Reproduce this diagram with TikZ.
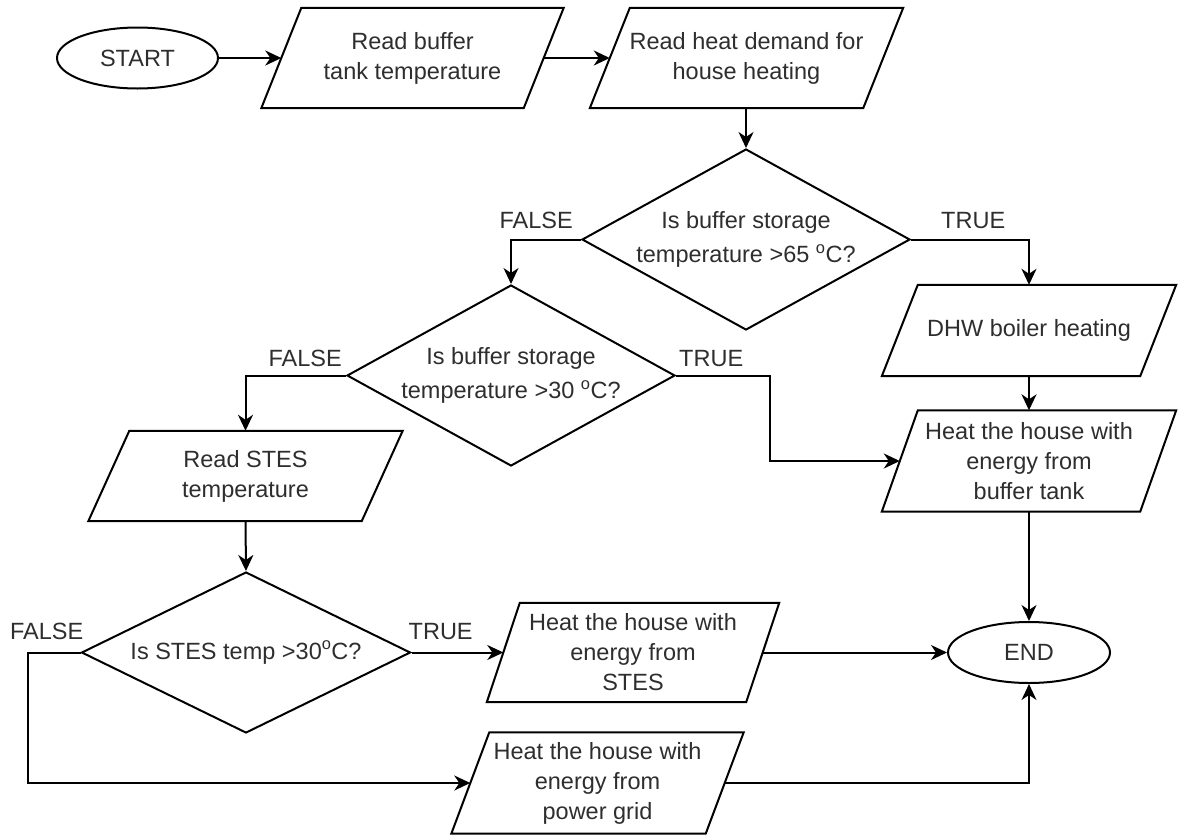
\documentclass[tikz,border=0pt]{standalone}
\usepackage{fontspec}
\setmainfont{Liberation Sans}
\usetikzlibrary{shapes.geometric,arrows.meta}
\newcommand\iobox[2]{\draw[shapeline] ([xshift=#2pt]#1.north west) -- ([xshift=#2pt]#1.north east) -- ([xshift=-#2pt]#1.south east) -- ([xshift=-#2pt]#1.south west) -- cycle;}
\begin{document}
\begin{tikzpicture}[x=1pt,y=-1pt,
  font=\fontsize{23.5}{30}\selectfont, text=black!82,
  shapeline/.style={draw=black, line width=2pt, line join=miter},
  term/.style={shape=ellipse, shapeline, inner sep=0pt, minimum height=61pt},
  dec/.style={shape=diamond, shapeline, inner sep=-20pt, aspect=1.8, align=center,
    font=\fontsize{23.5}{34.5}\selectfont, minimum width=328pt, minimum height=181pt},
  io/.style={shape=rectangle, inner sep=0pt, align=center, minimum height=100pt},
  conn/.style={draw=black, line width=2pt, -{Stealth[length=16pt,width=15pt,inset=5pt]}},
  lbl/.style={inner sep=0pt}]
\useasboundingbox[fill=white] (0,0) rectangle (1178,836);

\node[term, minimum width=161pt] (start) at (137.5,58) {START};
\node[io, minimum width=262pt] (rb) at (412.5,58) {Read buffer\\tank temperature};
\iobox{rb}{20}
\node[io, minimum width=273pt] (hd) at (746.5,58) {Read heat demand for\\house heating};
\iobox{hd}{20}
\node[dec] (d1) at (746,239.5) {Is buffer storage\\temperature >65 \textsuperscript{o}C?};
\node[dec] (d2) at (511,375.5) {Is buffer storage\\temperature >30 \textsuperscript{o}C?};
\node[io, minimum width=258pt, minimum height=91pt] (dhw) at (1029,330.5) {DHW boiler heating};
\iobox{dhw}{18}
\node[io, minimum width=258pt, minimum height=101pt] (hb) at (1029,461) {Heat the house with\\energy from\\buffer tank};
\iobox{hb}{18}
\node[io, minimum width=273pt, minimum height=90pt] (rs) at (245.5,476) {Read STES\\temperature};
\iobox{rs}{20.5}
\node[dec, minimum width=329pt, minimum height=161pt, aspect=2] (d3) at (246,652.5) {Is STES temp >30\textsuperscript{o}C?};
\node[io, minimum width=259pt, minimum height=99pt] (sb) at (633,652.5) {Heat the house with\\energy from\\STES};
\iobox{sb}{16.5}
\node[io, minimum width=254pt, minimum height=101pt] (pg) at (597.5,783) {Heat the house with\\energy from\\power grid};
\iobox{pg}{19}
\node[term, minimum width=162pt] (end) at (1029,652.5) {END};

\node[lbl, anchor=east] (f1) at ([shift={(-8,-19)}]d1.west) {FALSE};
\node[lbl, anchor=west] (t1) at ([shift={(30,-19)}]d1.east) {TRUE};
\node[lbl, anchor=east] (f2) at ([shift={(-4,-17)}]d2.west) {FALSE};
\node[lbl, anchor=west] (t2) at ([shift={(3,-17)}]d2.east) {TRUE};
\node[lbl, anchor=east] (f3) at ([shift={(3,-21)}]d3.west) {FALSE};
\node[lbl, anchor=west] (t3) at ([shift={(-3,-21)}]d3.east) {TRUE};

\draw[conn] (start.east) -- (rb.west);
\draw[conn] (rb.east) -- (hd.west);
\draw[conn] (hd.south -| d1.north) -- (d1.north);
\draw[conn] (d1.west) -| (d2.north);
\draw[conn] (d1.east) -| (dhw.north);
\draw[conn] (d2.west) -| (rs.north);
\draw[conn] (d2.east) -- ++(93.5,0) |- (hb.west);
\draw[conn] (dhw.south) -- (hb.north);
\draw[conn] (hb.south) -- (end.north);
\draw[conn] (rs.south) -- (d3.north);
\draw[conn] (d3.east) -- (sb.west);
\draw[conn] (d3.west) -- ++(-53,0) |- (pg.west);
\draw[conn] (sb.east) -- (end.west);
\draw[conn] (pg.east) -| (end.south);
\end{tikzpicture}
\end{document}
